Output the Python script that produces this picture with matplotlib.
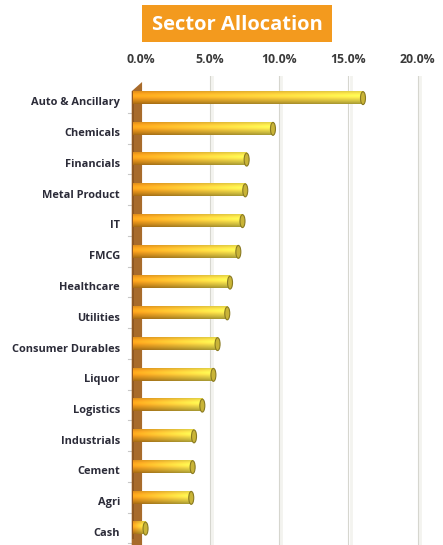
import numpy as np
import matplotlib
matplotlib.use("Agg")
import matplotlib.pyplot as plt
from matplotlib.patches import Rectangle, Ellipse, Polygon
from matplotlib.colors import to_rgb
import matplotlib.transforms as mtrans

sectors = ["Auto & Ancillary", "Chemicals", "Financials", "Metal Product", "IT",
           "FMCG", "Healthcare", "Utilities", "Consumer Durables", "Liquor",
           "Logistics", "Industrials", "Cement", "Agri", "Cash"]
weights = [16.1, 9.6, 7.7, 7.6, 7.4, 7.1, 6.5, 6.3, 5.6, 5.3, 4.5, 3.9, 3.8, 3.7, 0.4]
xticks = [0, 5, 10, 15, 20]
xtick_labels = ["0.0%", "5.0%", "10.0%", "15.0%", "20.0%"]

W, H = 443, 545
fig = plt.figure(figsize=(W / 100, H / 100), dpi=100)
fig.patch.set_facecolor("white")

# axis geometry in pixels
x0_px, px_per = 140.0, 13.85
xmin, xmax = -0.75, 20.5
top_px, first_px, step_px = 76.0, 97.5, 30.75
left = (x0_px + xmin * px_per) / W
right = (x0_px + xmax * px_per) / W
ax = fig.add_axes([left, 0, right - left, (H - top_px) / H])
ymax = (H - first_px) / step_px
ax.set_xlim(xmin, xmax)
ax.set_ylim(ymax, (top_px - first_px) / step_px)
for s in ax.spines.values():
    s.set_visible(False)
ax.set_facecolor("white")

# back gridlines
for t in xticks[1:]:
    ax.axvline(t + 0.05, color="#d6d6cf", lw=0.8, zorder=1)
    ax.axvline(t + 0.2, color="#f3f3ef", lw=2.0, zorder=0.9)

# brown side wall
ytop = (82 - first_px) / step_px
wall = Polygon([[-0.6, ymax], [-0.6, ytop + 0.3], [0.15, ytop], [0.15, ymax]],
               closed=True, facecolor="#a86b2b", edgecolor="none", zorder=2)
ax.add_patch(wall)
ax.add_patch(Rectangle((-0.6, ytop + 0.3), 0.2, ymax, facecolor="#8f5822",
                       edgecolor="none", zorder=2.1))
# small category separators on the wall's edge
for i in range(len(sectors)):
    ax.plot([-0.85, -0.6], [i + 0.5, i + 0.5], color="#c8c8c8", lw=0.8,
            zorder=1.5, clip_on=False)

# cylinder bars with orange-to-yellow shading
c_left = np.array(to_rgb("#f39a1a"))
c_right = np.array(to_rgb("#f5e54e"))
h = 0.42
nx, ny = 200, 30
tx = np.linspace(0, 1, nx)[None, :, None]
ty = np.linspace(-1, 1, ny)[:, None, None]
base = c_left * (1 - tx) + c_right * tx
shade = (1.0 - 0.32 * np.clip(ty, 0, 1) ** 1.3
         + 0.12 * np.exp(-((ty + 0.3) / 0.3) ** 2)
         - 0.08 * np.clip(-ty - 0.7, 0, 1) / 0.3)
img = np.clip(base * shade, 0, 1)

for i, v in enumerate(weights):
    ax.imshow(img, extent=(-0.5, v, i + h / 2, i - h / 2), aspect="auto",
              interpolation="bilinear", zorder=3)
    ax.add_patch(Ellipse((v, i + 0.02), 0.36, h * 1.0, facecolor="#c9b437",
                         edgecolor="#8a7a22", lw=0.8, zorder=4))

# ticks and labels
ax.set_yticks(range(len(sectors)))
ax.set_yticklabels(sectors, fontsize=7.9, fontweight="bold", color="#2b2b38",
                   family="Open Sans")
ax.tick_params(axis="y", length=0, pad=7)
offset = mtrans.ScaledTranslation(0, -4 / 100, fig.dpi_scale_trans)
for lab in ax.get_yticklabels():
    lab.set_transform(lab.get_transform() + offset)

ax.xaxis.tick_top()
ax.set_xticks([t + 0.05 for t in xticks])
ax.set_xticklabels(xtick_labels, fontsize=8.8, fontweight="bold", color="#3a3a3a",
                   family="Open Sans")
ax.tick_params(axis="x", length=0, pad=7)

# title banner
bx, by, bw, bh = 142, 5, 190, 37
fig.patches.append(Rectangle((bx / W, 1 - (by + bh) / H), bw / W, bh / H,
                             transform=fig.transFigure, facecolor="#f39a1e",
                             edgecolor="none", zorder=5))
fig.text((bx + bw / 2) / W, 1 - (by + bh / 2 + 1) / H, "Sector Allocation",
         ha="center", va="center", fontsize=14.5, fontweight="bold", color="white",
         family="Open Sans", zorder=6)

fig.savefig("out.png", dpi=100, facecolor="white")
